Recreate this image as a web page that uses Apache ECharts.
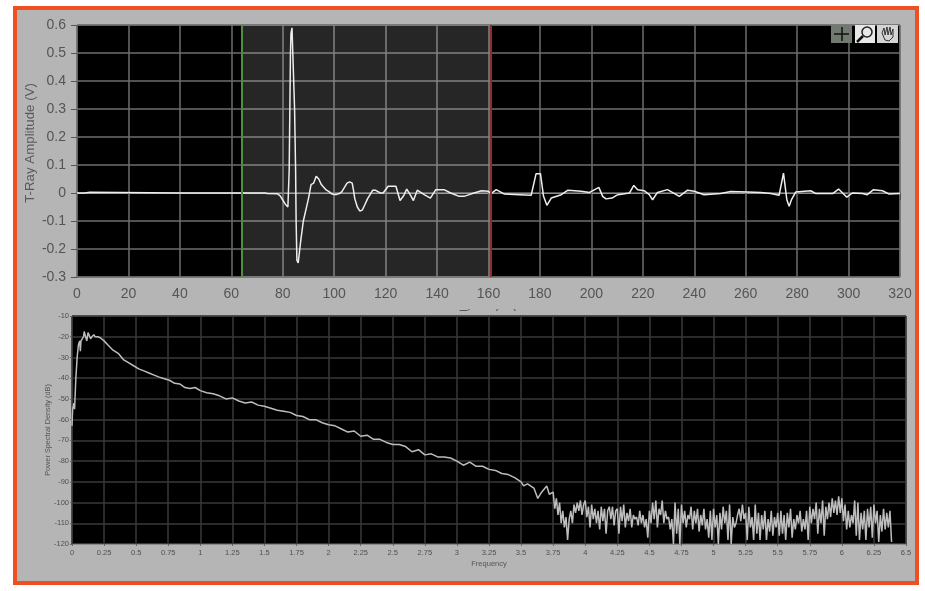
<!DOCTYPE html>
<html>
<head>
<meta charset="utf-8">
<title>T-Ray pulse and spectrum</title>
<script src="https://cdn.jsdelivr.net/npm/echarts@6/dist/echarts.min.js"></script>
<style>
html, body { margin: 0; padding: 0; background: #fff; }
#frame { position: absolute; left: 13px; top: 6px; width: 898px; height: 571px; border: 4px solid #f04e23; background: #b5b5b5; }
#pulse { position: absolute; left: 0; top: 0; width: 925px; height: 311px; filter: blur(0.5px); }
#spectrum { position: absolute; left: 0; top: 0; width: 925px; height: 591px; filter: blur(0.7px); }
</style>
</head>
<body>
<div id="frame"></div>
<div id="pulse"></div>
<div id="spectrum"></div>
<script>
// cursors of the selected window on the top plot
var cursorStart = 64
var cursorEnd = 161

var pulseTicksY = [-0.3, 0.6, 0.1]
var pulseTicksX = [0, 320, 20]
var spectrumTicksY = [-120, -10, 10]
var spectrumTicksX = [0, 6.5, 0.25]

// time (ps), amplitude (V)
var pulseTime = [
    0,3,3.5,5,5.5,40,73,74,78,79,
    80,81,82,82.3,82.5,83,83.2,83.6,83.8,84.6,
    85,85.2,85.5,86,86.5,87,88,89,90,91,
    92,93,94,95,96,97,98,99,100,101,
    102,103,104,105,106,
    107,107.5,108,109,110,111,112,113,114,115,
    116,117,118,119,121,124,125.6,127,128.2,129.5,
    130.8,132.3,135,137.4,139.5,142.7,145.3,148.6,150.5,153.4,
    157.3,159.9,161,163,166.2,170,176.6,178.5,180.2,181.4,
    182.7,184.4,188.3,190.9,196,199.3,202.9,204.4,205.7,208,
    210.3,214.8,216.5,218,220.6,222.5,223.8,225.7,229.6,234.2,
    237.4,240,243.8,250.3,254.2,260.7,265.9,269.8,273,274.7,
    275.2,276,276.9,277.8,279.5,285.3,287.3,293.8,296.1,297.7,
    299.3,301.5,305.4,307.3,309.7,313.2,315.8,320
]
var pulseAmp = [
    0,0,0.003,0.003,0,0,0,-0.002,-0.003,-0.01,
    -0.025,-0.04,-0.05,-0.05,0.08,0.5,0.57,0.59,0.53,0.3,
    0.08,-0.1,-0.24,-0.25,-0.25,-0.17,-0.1,-0.06,-0.02,0.03,
    0.035,0.06,0.05,0.03,0.02,0.01,0.005,-0.003,-0.005,-0.005,
    -0.002,0.005,0.02,0.035,0.04,
    0.035,0.01,-0.02,-0.05,-0.065,-0.06,-0.04,-0.02,-0.005,0.01,
    0.01,0.005,0,0,0.024,0.024,-0.027,-0.01,0.014,-0.005,
    -0.027,0.01,-0.006,-0.018,0.012,0.012,0,-0.012,-0.012,-0.003,
    0.008,0.006,-0.002,0.012,-0.004,-0.005,-0.008,0.069,0.069,-0.012,
    -0.044,-0.018,-0.006,0.01,0.006,0.002,0.02,-0.012,-0.021,-0.018,
    -0.006,0,0.027,0.012,0.008,-0.006,-0.024,0.002,0.012,-0.012,
    0.01,0.006,-0.006,-0.002,0.005,0.004,0.002,-0.002,-0.008,0.071,
    0.071,-0.024,-0.047,-0.024,0.004,0.008,-0.002,-0.002,0.014,0,
    -0.015,0,-0.002,-0.006,0.012,0.008,-0.004,-0.002
]

// frequency (THz), power spectral density (dB), smooth part
var spectrumFreq = [0,0.005,0.015,0.02,0.03,0.04,0.05,0.06,0.065,0.07,0.08,0.09,0.095,0.105,0.115,0.125,0.135,0.145,0.155,0.17,0.18,0.2,0.22,0.25,0.28,0.32,0.36,0.4,0.44,0.48,0.52,0.56,0.6,0.64,0.68,0.72,0.76,0.8,0.84,0.88,0.92,0.96,1,1.05,1.1,1.15,1.2,1.25,1.3,1.35,1.4,1.45,1.5,1.55,1.6,1.65,1.7,1.75,1.8,1.85,1.9,1.95,2,2.05,2.1,2.15,2.2,2.25,2.3,2.35,2.4,2.45,2.5,2.55,2.6,2.65,2.7,2.75,2.8,2.85,2.9,2.95,3,3.05,3.1,3.15,3.2,3.25,3.3,3.35,3.4,3.45,3.5,3.52,3.55,3.6,3.63,3.66,3.7,3.72]
var spectrumDb = [-63,-55,-52,-55,-40,-30,-24,-22,-27,-22,-21,-20,-17.5,-18,-22,-18,-18,-21,-20,-19,-20,-20,-20.5,-22,-24,-26.5,-28,-31,-32.5,-34,-35.5,-36.5,-37.5,-38.5,-39.5,-40.3,-41,-42.5,-42.8,-44.5,-45,-44.5,-46,-47,-47.5,-48.5,-50,-49.5,-51,-52,-51.5,-53,-53.5,-54.5,-55.5,-56,-56.5,-58,-58.5,-60,-60,-61.5,-62.5,-63,-64.5,-66,-65.5,-68,-67.5,-69.5,-69.5,-71,-72,-72,-73,-75.5,-74.5,-77,-76.5,-78,-78,-78.5,-80,-82,-80.5,-82.5,-82.5,-84,-84.5,-86,-86.5,-88,-90,-92,-91,-93,-98,-95,-92,-96]

// noise floor, one value every 0.0125 THz from 3.75 THz
var noiseStart = 3.75
var noiseStep = 0.0125
var noiseDb = [
    -95,-103,-98,-106,-100,-110,-104,-112,-107,-118,-108,-104,-110,-101,-105,-100,-104,-99,-106,-101,
    -99,-107,-102,-112,-101,-108,-103,-110,-104,-113,-102,-109,-103,-115,-104,-102,-108,-102,-111,-104,
    -103,-115,-102,-109,-101,-112,-105,-109,-103,-112,-106,-108,-107,-111,-104,-110,-106,-112,-108,-117,
    -104,-110,-100,-108,-99,-112,-103,-106,-99,-110,-104,-108,-107,-113,-108,-120,-100,-115,-103,-120,
    -101,-110,-104,-112,-106,-108,-102,-113,-104,-110,-103,-114,-106,-111,-103,-113,-108,-117,-104,-118,
    -103,-112,-106,-120,-105,-113,-102,-110,-104,-118,-101,-120,-107,-112,-110,-106,-103,-109,-101,-108,
    -105,-118,-102,-112,-107,-118,-101,-115,-105,-118,-106,-113,-104,-118,-108,-114,-104,-116,-107,-112,
    -105,-116,-104,-115,-106,-118,-105,-112,-103,-117,-108,-113,-106,-110,-104,-114,-108,-113,-104,-118,
    -102,-110,-103,-108,-100,-115,-103,-110,-99,-116,-102,-108,-100,-107,-98,-105,-99,-106,-97,-105,
    -98,-109,-101,-113,-104,-112,-106,-110,-99,-116,-100,-118,-105,-113,-104,-118,-103,-112,-102,-117,
    -101,-110,-104,-119,-106,-114,-103,-113,-105,-112,-104,-119
]

function pairs(xs, ys) {
    return xs.map(function (x, i) { return [x, ys[i]] })
}

var spectrumData = pairs(spectrumFreq, spectrumDb).concat(noiseDb.map(function (v, i) {
    return [noiseStart + i * noiseStep, v]
}))

var fontName = '"Liberation Sans", Arial, sans-serif'

var pulseChart = echarts.init(document.getElementById('pulse'))
pulseChart.setOption({
    animation: false,
    grid: {
        left: 77,
        right: 25,
        top: 25,
        height: 252,
        outerBoundsMode: 'none',
        show: true,
        backgroundColor: '#000',
        borderColor: '#808080',
        borderWidth: 1
    },
    xAxis: {
        type: 'value',
        min: pulseTicksX[0],
        max: pulseTicksX[1],
        interval: pulseTicksX[2],
        name: 'Time (ps)',
        nameLocation: 'middle',
        nameMoveOverlap: false,
        nameGap: 32,
        nameTextStyle: { color: '#555', fontSize: 14, fontFamily: fontName },
        axisLine: { lineStyle: { color: '#8c8c8c' } },
        axisTick: { show: true, length: 7, lineStyle: { color: '#555' } },
        axisLabel: { color: '#555', fontSize: 14, fontFamily: fontName, margin: 10 },
        splitLine: { show: true, lineStyle: { color: '#6e6e6e', width: 1.5 } }
    },
    yAxis: {
        type: 'value',
        min: pulseTicksY[0],
        max: pulseTicksY[1],
        interval: pulseTicksY[2],
        name: 'T-Ray Amplitude (V)',
        nameLocation: 'middle',
        nameMoveOverlap: false,
        nameGap: 40,
        nameTextStyle: { color: '#5a5a5a', fontSize: 13.3, fontFamily: fontName, padding: [0, 0, 0, 16] },
        axisLine: { show: false },
        axisTick: { show: true, length: 6, lineStyle: { color: '#555' } },
        axisLabel: { color: '#555', fontSize: 14, fontFamily: fontName, margin: 11 },
        splitLine: { show: true, lineStyle: { color: '#6e6e6e', width: 1.5 } }
    },
    series: [{
        type: 'line',
        data: pairs(pulseTime, pulseAmp),
        showSymbol: false,
        lineStyle: { color: '#eeeeee', width: 1.5 },
        markArea: {
            silent: true,
            itemStyle: { color: 'rgba(255,255,255,0.15)' },
            data: [[{ xAxis: cursorStart }, { xAxis: cursorEnd }]]
        },
        markLine: {
            silent: true,
            symbol: 'none',
            label: { show: false },
            data: [
                { xAxis: cursorStart, lineStyle: { color: '#4f8f3f', width: 2, type: 'solid' } },
                { xAxis: cursorEnd, lineStyle: { color: '#8f2c2c', width: 2, type: 'solid' } }
            ]
        }
    }],
    // graph palette buttons, top right
    graphic: [
        { type: 'rect', shape: { x: 831, y: 25, width: 21, height: 18 }, style: { fill: '#707a70' }, z: 10 },
        { type: 'line', shape: { x1: 834, y1: 34, x2: 849, y2: 34 }, style: { stroke: '#111', lineWidth: 1.5 }, z: 11 },
        { type: 'line', shape: { x1: 842, y1: 27, x2: 842, y2: 41 }, style: { stroke: '#111', lineWidth: 1.5 }, z: 11 },
        { type: 'rect', shape: { x: 855, y: 25, width: 20, height: 18 }, style: { fill: '#e8e8e8' }, z: 10 },
        { type: 'circle', shape: { cx: 867, cy: 32, r: 5 }, style: { fill: 'none', stroke: '#222', lineWidth: 1.5 }, z: 11 },
        { type: 'line', shape: { x1: 863, y1: 36, x2: 857, y2: 42 }, style: { stroke: '#111', lineWidth: 2.5 }, z: 11 },
        { type: 'rect', shape: { x: 877, y: 25, width: 21, height: 18 }, style: { fill: '#d4d4d4' }, z: 10 },
        { type: 'polyline', shape: { points: [[882, 33], [884, 28], [885, 35], [887, 27], [888, 35], [890, 27], [891, 35], [893, 29], [893, 37], [889, 41], [885, 40], [882, 33]] }, style: { fill: 'none', stroke: '#333', lineWidth: 1 }, z: 11 }
    ]
})

var spectrumChart = echarts.init(document.getElementById('spectrum'))
spectrumChart.setOption({
    animation: false,
    grid: {
        left: 72,
        right: 19,
        top: 316,
        height: 228,
        outerBoundsMode: 'none',
        show: true,
        backgroundColor: '#000',
        borderColor: '#6a6a6a',
        borderWidth: 1
    },
    xAxis: {
        type: 'value',
        min: spectrumTicksX[0],
        max: spectrumTicksX[1],
        interval: spectrumTicksX[2],
        name: 'Frequency',
        nameLocation: 'middle',
        nameMoveOverlap: false,
        nameGap: 16,
        nameTextStyle: { color: '#555', fontSize: 7.5, fontFamily: fontName },
        axisLine: { lineStyle: { color: '#8c8c8c' } },
        axisTick: { show: true, length: 2, lineStyle: { color: '#666' } },
        axisLabel: { color: '#4f4f4f', fontSize: 7.5, fontFamily: fontName, margin: 5, hideOverlap: false },
        splitLine: { show: true, lineStyle: { color: '#383838', width: 1.5 } }
    },
    yAxis: {
        type: 'value',
        min: spectrumTicksY[0],
        max: spectrumTicksY[1],
        interval: spectrumTicksY[2],
        name: 'Power Spectral Density (dB)',
        nameLocation: 'middle',
        nameMoveOverlap: false,
        nameGap: 21,
        nameTextStyle: { color: '#555', fontSize: 7.3, fontFamily: fontName },
        axisLine: { show: false },
        axisTick: { show: true, length: 2, lineStyle: { color: '#666' } },
        axisLabel: { color: '#4f4f4f', fontSize: 7.5, fontFamily: fontName, margin: 3 },
        splitLine: { show: true, lineStyle: { color: '#383838', width: 1.5 } }
    },
    series: [{
        type: 'line',
        data: spectrumData,
        showSymbol: false,
        lineStyle: { color: '#bdbdbd', width: 1.5 }
    }]
})
</script>
</body>
</html>
